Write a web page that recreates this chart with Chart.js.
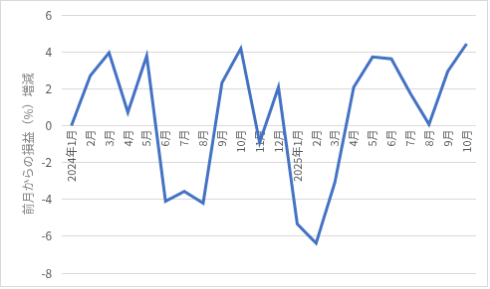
<!DOCTYPE html>
<html>
<head>
<meta charset="utf-8">
<script src="https://cdn.jsdelivr.net/npm/chart.js@4/dist/chart.umd.min.js"></script>
<style>
  html,body{margin:0;padding:0;background:#fff;}
  canvas{display:block;border:1px solid #d9d9d9;}
</style>
</head>
<body>
<canvas id="c" width="488" height="287"></canvas>
<script>
const categories = ["2024年1月","2月","3月","4月","5月","6月","7月","8月","9月","10月","11月","12月",
                    "2025年1月","2月","3月","4月","5月","6月","7月","8月","9月","10月"];
const changeValues = [0, 2.7, 3.95, 0.72, 3.78, -4.1, -3.57, -4.2, 2.33, 4.18, -0.92, 2.08,
                      -5.34, -6.38, -3.07, 2.08, 3.72, 3.62, 1.76, 0.07, 2.95, 4.44];
const yTicks = [-8, -6, -4, -2, 0, 2, 4, 6];
const yTitle = "前月からの損益（%）増減";

const FONT = '"Noto Sans CJK JP", "Noto Sans", sans-serif';

new Chart(document.getElementById('c'), {
  type: 'line',
  data: {
    labels: categories,
    datasets: [{
      data: changeValues,
      borderColor: '#4472C4',
      borderWidth: 3,
      pointRadius: 0,
      tension: 0,
      fill: false
    }]
  },
  options: {
    responsive: false,
    animation: false,
    layout: { padding: { left: 16, right: 11, top: 14, bottom: 13 } },
    plugins: { legend: { display: false }, tooltip: { enabled: false } },
    scales: {
      x: {
        position: { y: 0 },
        offset: true,
        afterFit: (s) => { s.height = 0; s.paddingLeft = 0; s.paddingRight = 0; },
        grid: { display: false, drawTicks: false },
        border: { display: false },
        ticks: {
          autoSkip: false,
          minRotation: 90,
          maxRotation: 90,
          padding: 4,
          color: '#595959',
          font: { family: FONT, size: 11 }
        }
      },
      y: {
        min: -8,
        max: 6,
        afterBuildTicks: (s) => { s.ticks = yTicks.map(v => ({ value: v })); },
        afterFit: (s) => { s.paddingTop = 0; s.paddingBottom = 0; },
        grid: { color: '#d9d9d9', lineWidth: 1, drawTicks: false },
        border: { display: false },
        ticks: {
          padding: 10,
          color: '#595959',
          font: { family: FONT, size: 12 }
        },
        title: {
          display: true,
          text: yTitle,
          color: '#7f7f7f',
          padding: { top: 4, bottom: -4 },
          font: { family: FONT, size: 12 }
        }
      }
    }
  }
});
</script>
</body>
</html>
